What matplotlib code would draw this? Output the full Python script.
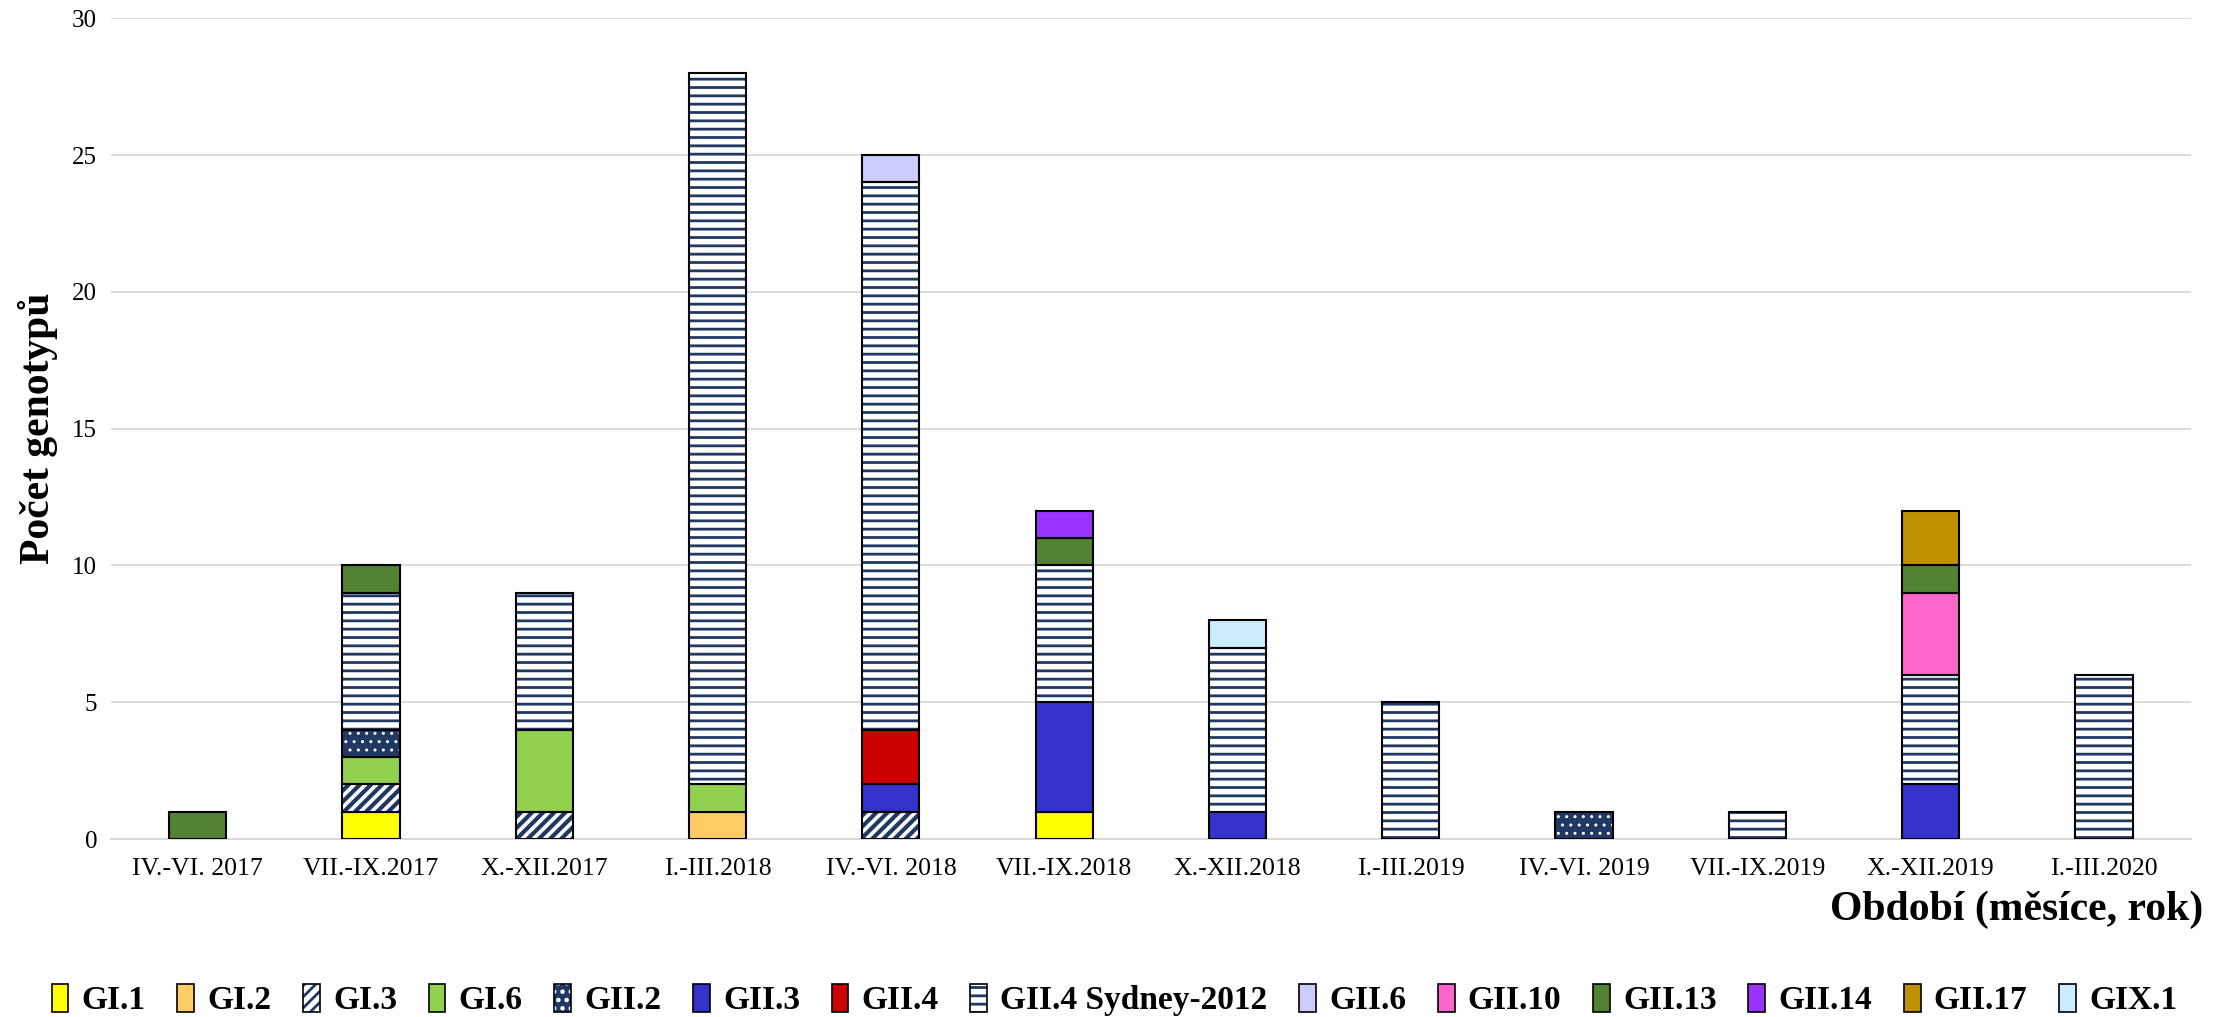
import matplotlib
matplotlib.use("Agg")
import matplotlib.pyplot as plt
import numpy as np
from matplotlib.patches import Patch
from matplotlib.legend_handler import HandlerTuple

plt.rcParams['font.family'] = ['Liberation Serif', 'DejaVu Serif']

periods = ['IV.-VI. 2017', 'VII.-IX.2017', 'X.-XII.2017', 'I.-III.2018',
           'IV.-VI. 2018', 'VII.-IX.2018', 'X.-XII.2018', 'I.-III.2019',
           'IV.-VI. 2019', 'VII.-IX.2019', 'X.-XII.2019', 'I.-III.2020']

genotypes = ['GI.1', 'GI.2', 'GI.3', 'GI.6', 'GII.2', 'GII.3', 'GII.4',
             'GII.4 Sydney-2012', 'GII.6', 'GII.10', 'GII.13', 'GII.14',
             'GII.17', 'GIX.1']

gi1    = [0, 1, 0, 0, 0, 1, 0, 0, 0, 0, 0, 0]
gi2    = [0, 0, 0, 1, 0, 0, 0, 0, 0, 0, 0, 0]
gi3    = [0, 1, 1, 0, 1, 0, 0, 0, 0, 0, 0, 0]
gi6    = [0, 1, 3, 1, 0, 0, 0, 0, 0, 0, 0, 0]
gii2   = [0, 1, 0, 0, 0, 0, 0, 0, 1, 0, 0, 0]
gii3   = [0, 0, 0, 0, 1, 4, 1, 0, 0, 0, 2, 0]
gii4   = [0, 0, 0, 0, 2, 0, 0, 0, 0, 0, 0, 0]
sydney = [0, 5, 5, 26, 20, 5, 6, 5, 0, 1, 4, 6]
gii6   = [0, 0, 0, 0, 1, 0, 0, 0, 0, 0, 0, 0]
gii10  = [0, 0, 0, 0, 0, 0, 0, 0, 0, 0, 3, 0]
gii13  = [1, 1, 0, 0, 0, 1, 0, 0, 0, 0, 1, 0]
gii14  = [0, 0, 0, 0, 0, 1, 0, 0, 0, 0, 0, 0]
gii17  = [0, 0, 0, 0, 0, 0, 0, 0, 0, 0, 2, 0]
gix1   = [0, 0, 0, 0, 0, 0, 1, 0, 0, 0, 0, 0]

series = [gi1, gi2, gi3, gi6, gii2, gii3, gii4, sydney, gii6, gii10,
          gii13, gii14, gii17, gix1]

navy = '#1F3864'
# (face, hatch, hatch colour, hatch linewidth)
styles = [
    ('#FFFF00', None, None, 0),
    ('#FFCC66', None, None, 0),
    ('white', '///', navy, 3.0),
    ('#92D050', None, None, 0),
    (navy, '..', 'white', 1.0),
    ('#3333CC', None, None, 0),
    ('#CC0000', None, None, 0),
    ('white', '--', navy, 2.0),
    ('#CCCCFF', None, None, 0),
    ('#FF66CC', None, None, 0),
    ('#548235', None, None, 0),
    ('#9933FF', None, None, 0),
    ('#BF9000', None, None, 0),
    ('#CCECFF', None, None, 0),
]

plt.rcParams['hatch.linewidth'] = 2.0

fig = plt.figure(figsize=(22.29, 10.17), dpi=100)
ax = fig.add_axes([0.0498, 0.175, 0.933, 0.807])

x = np.arange(len(periods))
width = 0.33
bottom = np.zeros(len(periods))
handles = []
for vals, (fc, hatch, hc, hlw) in zip(series, styles):
    vals = np.array(vals, dtype=float)
    m = vals > 0
    if hatch is None:
        ax.bar(x[m], vals[m], width, bottom=bottom[m], color=fc,
               edgecolor='black', linewidth=1.5, zorder=3)
        handles.append(Patch(facecolor=fc, edgecolor='black', linewidth=1.2))
    else:
        with plt.rc_context({'hatch.linewidth': hlw}):
            bars = ax.bar(x[m], vals[m], width, bottom=bottom[m], color=fc,
                          edgecolor=hc, hatch=hatch, linewidth=0, zorder=3)
            hp = Patch(facecolor=fc, edgecolor=hc, hatch=hatch, linewidth=0)
        for b in bars:
            if hasattr(b, 'set_hatch_linewidth'):
                b.set_hatch_linewidth(hlw)
        ax.bar(x[m], vals[m], width, bottom=bottom[m], fill=False,
               edgecolor='black', linewidth=1.5, zorder=4)
        if hasattr(hp, 'set_hatch_linewidth'):
            hp.set_hatch_linewidth(min(hlw, 2.5))
        handles.append((hp, Patch(fill=False, edgecolor='black', linewidth=1.2)))
    bottom += vals

ax.set_xlim(-0.5, len(periods) - 0.5)
ax.set_ylim(0, 30)
ax.set_yticks(np.arange(0, 31, 5))
ax.set_xticks(x)
ax.set_xticklabels(periods, fontsize=18.5)
ax.tick_params(axis='y', labelsize=18, length=0, pad=10)
ax.tick_params(axis='x', length=0, pad=14)
ax.grid(axis='y', color='#D9D9D9', linewidth=1.3, zorder=0)
ax.set_axisbelow(True)
for s in ['top', 'right', 'left']:
    ax.spines[s].set_visible(False)
ax.spines['bottom'].set_color('#D9D9D9')
ax.spines['bottom'].set_linewidth(1.5)

fig.text(2203 / 2229, 1 - 910 / 1017, 'Období (měsíce, rok)', fontsize=30,
         fontweight='bold', ha='right', va='center')
fig.text(38 / 2229, 1 - 428 / 1017, 'Počet genotypů', fontsize=30,
         fontweight='bold', rotation=90, ha='center', va='center')

fig.legend(handles, genotypes, loc='center', bbox_to_anchor=(0.5, 1 - 1000 / 1017),
           ncol=len(genotypes), frameon=False,
           prop={'weight': 'bold', 'size': 24},
           handlelength=0.5, handleheight=0.95, handletextpad=0.4,
           columnspacing=0.95, handler_map={tuple: HandlerTuple(ndivide=1)})

plt.savefig('out.png', dpi=100)
